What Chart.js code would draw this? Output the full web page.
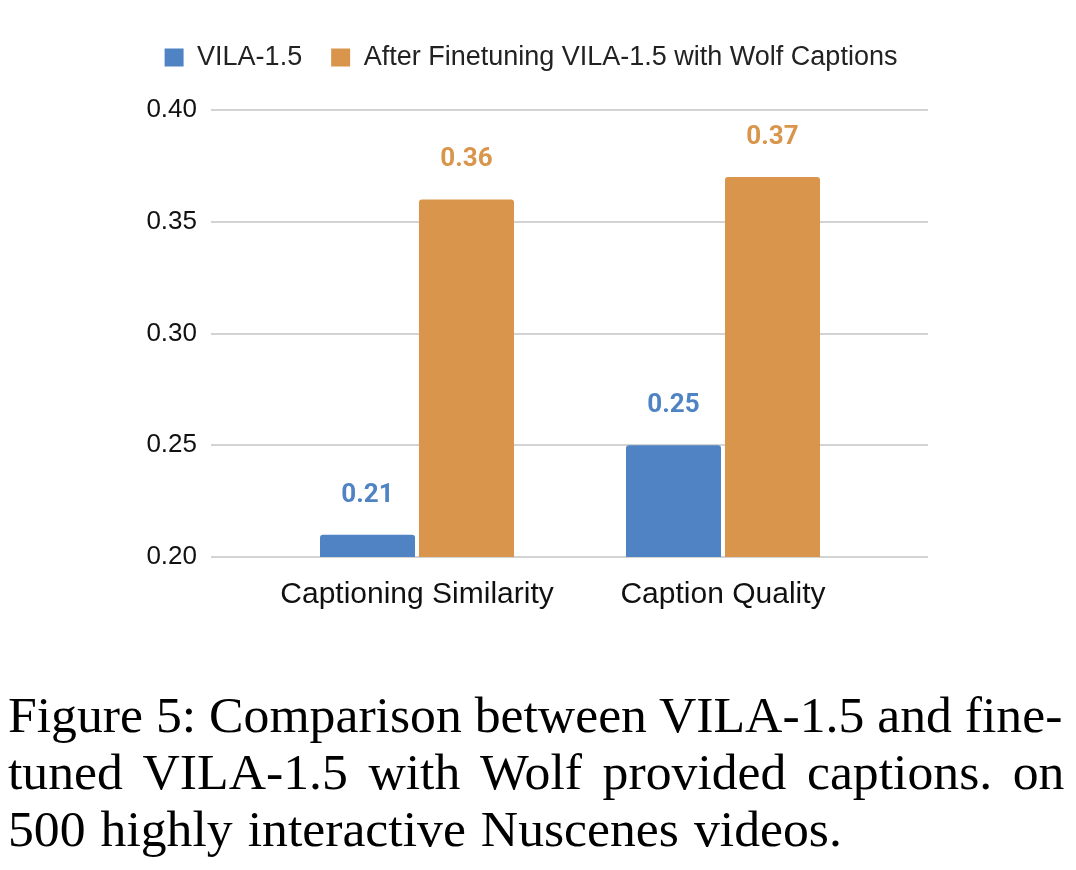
<!DOCTYPE html>
<html>
<head>
<meta charset="utf-8">
<script src="https://cdn.jsdelivr.net/npm/chart.js@4.4.1/dist/chart.umd.min.js"></script>
<style>
  html, body { margin: 0; padding: 0; background: #ffffff; }
  #wrap { position: relative; width: 1076px; height: 870px; overflow: hidden; }
  #chartBox { position: absolute; left: 0; top: 0; width: 1076px; height: 640px; }
  #caption {
    position: absolute; left: 8px; top: 687px; width: 1068px;
    font-family: "Liberation Serif", "Times New Roman", serif;
    font-size: 50px; line-height: 57px; color: #000; white-space: pre;
    transform: scaleX(1.034); transform-origin: 0 0;
  }
  #caption div { height: 57px; }
  #l2 { word-spacing: 7.4px; }
  #l3 { word-spacing: 2px; }
</style>
</head>
<body>
<div id="wrap">
  <div id="chartBox"><canvas id="c" width="1076" height="640"></canvas></div>
  <div id="caption"><div id="l1">Figure 5: Comparison between VILA-1.5 and fine-</div><div id="l2">tuned VILA-1.5 with Wolf provided captions. on</div><div id="l3">500 highly interactive Nuscenes videos.</div></div>
</div>
<script>
const categories = ["Captioning Similarity", "Caption Quality"];
const seriesNames = ["VILA-1.5", "After Finetuning VILA-1.5 with Wolf Captions"];
const vilaValues = [0.21, 0.25];
const finetunedValues = [0.36, 0.37];
const yTicks = [0.20, 0.25, 0.30, 0.35, 0.40];

const BLUE = "#5083c3";
const ORANGE = "#d9954b";
const GRID = "#d3d3d3";

const valueLabels = {
  id: "valueLabels",
  afterDatasetsDraw(chart) {
    const ctx = chart.ctx;
    ctx.save();
    ctx.font = "bold 26px Roboto, 'Liberation Sans', Arial, sans-serif";
    ctx.textAlign = "center";
    ctx.textBaseline = "alphabetic";
    chart.data.datasets.forEach((ds, di) => {
      const meta = chart.getDatasetMeta(di);
      meta.data.forEach((el, i) => {
        ctx.fillStyle = ds.backgroundColor;
        ctx.fillText(ds.data[i].toFixed(2), el.x, el.y - 33);
      });
    });
    ctx.restore();
  }
};

new Chart(document.getElementById("c"), {
  type: "bar",
  data: {
    labels: categories,
    datasets: [
      { label: seriesNames[0], data: vilaValues, backgroundColor: BLUE,
        borderRadius: { topLeft: 3, topRight: 3 }, borderSkipped: "bottom" },
      { label: seriesNames[1], data: finetunedValues, backgroundColor: ORANGE,
        borderRadius: { topLeft: 3, topRight: 3 }, borderSkipped: "bottom" }
    ]
  },
  options: {
    responsive: false,
    animation: false,
    devicePixelRatio: 1,
    layout: { padding: { left: 134, right: 148, top: 15, bottom: 23 } },
    datasets: { bar: { categoryPercentage: 0.647, barPercentage: 0.96 } },
    plugins: {
      tooltip: { enabled: false },
      legend: {
        position: "top",
        labels: {
          boxWidth: 19, boxHeight: 18, padding: 29,
          color: "#222222",
          font: { family: "'Liberation Sans', Arial, sans-serif", size: 27 }
        }
      },
      subtitle: {
        display: true, text: " ", position: "top", weight: 500,
        font: { size: 10 }, padding: { top: 8, bottom: 9 }
      }
    },
    scales: {
      x: {
        grid: { display: false },
        border: { display: false },
        ticks: { color: "#111111", padding: 12,
          font: { family: "'Liberation Sans', Arial, sans-serif", size: 30 } },
        afterFit(s) { s.height = 60; }
      },
      y: {
        min: 0.2, max: 0.4,
        afterBuildTicks(s) { s.ticks = yTicks.map(v => ({ value: v })); },
        grid: { color: GRID, lineWidth: 2, drawTicks: true, tickLength: 53, tickColor: GRID },
        border: { display: false },
        ticks: { color: "#111111", padding: 14,
          font: { family: "'Liberation Sans', Arial, sans-serif", size: 26 },
          callback: v => v.toFixed(2) },
        afterFit(s) { s.width = 130; }
      },
      y2: {
        position: "right",
        min: 0.2, max: 0.4,
        afterBuildTicks(s) { s.ticks = yTicks.map(v => ({ value: v })); },
        grid: { color: GRID, lineWidth: 2, drawOnChartArea: false, drawTicks: true, tickLength: 52, tickColor: GRID },
        border: { display: false },
        ticks: { display: false },
        afterFit(s) { s.width = 52; }
      }
    }
  },
  plugins: [valueLabels]
});
</script>
</body>
</html>
